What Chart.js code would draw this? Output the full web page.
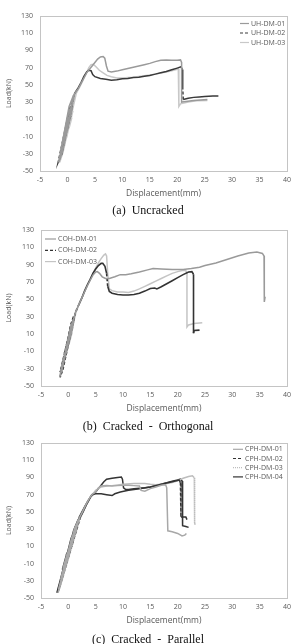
<!DOCTYPE html>
<html><head><meta charset="utf-8">
<script src="https://cdn.jsdelivr.net/npm/chart.js@4/dist/chart.umd.min.js"></script>
<style>
html,body{margin:0;padding:0;background:#fff;width:296px;height:644px;overflow:hidden;}
.wrap{position:absolute;left:0;width:296px;}
canvas{display:block;}
.cap{position:absolute;left:0;width:296px;text-align:center;font-family:"Liberation Serif","DejaVu Serif",serif;font-size:12px;color:#111;white-space:pre;line-height:14px;}
</style></head>
<body>
<div class="wrap" style="top:0;height:215px"><canvas id="ca" width="296" height="215"></canvas></div>
<div class="wrap" style="top:215px;height:215px"><canvas id="cb" width="296" height="215"></canvas></div>
<div class="wrap" style="top:430px;height:214px"><canvas id="cc" width="296" height="214"></canvas></div>
<div class="cap" style="top:203px">(a)  Uncracked</div>
<div class="cap" style="top:419px">(b)  Cracked  -  Orthogonal</div>
<div class="cap" style="top:632px">(c)  Cracked  -  Parallel</div>
<script>
// ---------- tick labels ----------
const xTicks = [-5,0,5,10,15,20,25,30,35,40];
const yTicks = [-50,-30,-10,10,30,50,70,90,110,130];
const xTitle = 'Displacement(mm)';
const yTitle = 'Load(kN)';
const captions = ['(a)  Uncracked','(b)  Cracked  -  Orthogonal','(c)  Cracked  -  Parallel'];

// ---------- (a) Uncracked ----------
const UH_DM_01 = [[0,0],[0.5,12],[0.0,5],[-0.7,-12],[-0.1,-5],[0.7,18],[0.0,8],[-1.0,-20],[-0.3,-10],[0.9,28],[0.1,15],[-1.3,-32],[-0.6,-20],[1.1,38],[0.3,25],[-1.6,-40],[-0.9,-28],[1.3,40],[2,46],[2.5,52],[3,58],[3.5,64],[4,68],[4.5,72],[5,76],[5.5,80],[6,82.5],[6.5,83],[6.8,81],[7.1,72],[7.4,66],[8,65],[9,66],[10,67.5],[11,69],[12,70.5],[13,72],[14,73.5],[15,75],[16,77],[17,78.5],[18,79],[19,78.5],[20,78.5],[20.6,79],[20.8,76],[20.8,30],[21.2,30.5],[23,32],[25.5,33]];
const UH_DM_02 = [[0,0],[0.6,14],[-0.1,3],[-0.8,-15],[-0.1,-4],[0.9,26],[0.1,10],[-1.2,-28],[-0.5,-14],[1.1,36],[0.3,20],[-1.7,-40],[-1.0,-30],[1.3,40],[2,47],[2.5,53],[3,60],[3.5,65],[3.9,67],[4.3,66.5],[4.6,62],[5,59.5],[6,57.5],[7,56.5],[8,55.5],[9,56],[10,57],[11,57.5],[12,58.5],[13,59],[14,60],[15,61],[16,62.5],[17,64],[18,65.5],[19,67.5],[20,69.5],[20.7,71],[20.9,68],[21,46],[21.1,33],[22,34.5],[23,35.5],[24,36],[25,36.5],[26.5,37],[27.5,37]];
const UH_DM_03 = [[0.3,0],[0.8,12],[0.3,4],[-0.4,-12],[0.1,-4],[1.0,20],[0.4,9],[-0.7,-22],[-0.1,-10],[1.2,30],[0.5,16],[-1.1,-33],[-0.5,-20],[1.4,38],[0.7,26],[-1.4,-40],[-0.8,-28],[1.6,40],[2.2,47],[2.8,55],[3.4,63],[3.9,70],[4.3,73.5],[4.7,74],[5.2,71],[5.8,67],[6.5,64],[7.2,61],[8,59.5],[9,58],[10,58],[11,58.5],[12,59],[14,60.5],[16,62.5],[18,65],[19,66.5],[20.2,68.5],[20.3,25],[20.6,28],[22,30],[23.5,31.5],[25.5,32]];

// ---------- (b) Cracked - Orthogonal ----------
const COH_DM_01 = [[0,0],[0.6,12],[0.0,4],[-0.6,-10],[-0.1,-3],[0.8,18],[0.1,7],[-1.0,-22],[-0.4,-12],[1.0,25],[0.3,13],[-1.4,-33],[-0.8,-22],[1.1,30],[0.4,18],[-1.6,-40],[-1.1,-30],[1.3,35],[2,45],[2.5,52],[3,59],[3.5,66],[4,72],[4.5,78],[5,81.5],[5.3,82],[5.7,80],[6.2,76],[6.8,74],[7.5,74],[8.5,76],[9.5,78.5],[10.5,78.5],[11.5,79.5],[13,81.5],[14.5,84],[15.5,85.5],[17,85],[19,84.5],[21,84.5],[22.5,85.5],[24,87],[25,89],[27,92],[29,96],[31,100],[33,103.5],[34.5,104.5],[35.5,103],[35.8,100],[35.8,55],[35.9,47],[36,53]];
const COH_DM_02 = [[0,0],[0.5,12],[-0.1,2],[-0.7,-12],[-0.1,-4],[0.7,18],[0.1,6],[-1.1,-24],[-0.5,-13],[0.9,26],[0.2,12],[-1.5,-34],[-0.9,-24],[1.0,31],[0.4,20],[-1.5,-40],[-1.0,-31],[1.3,35],[2,45],[2.5,52],[3,60],[3.5,67],[4,73],[4.5,80],[5,85],[5.5,89],[6,91.5],[6.3,91.5],[6.7,88],[7,80],[7.2,65],[7.5,59],[8,57],[9,55.5],[10,55],[11,55],[12,55.5],[13,57],[14,59.5],[15,62.5],[15.8,63],[16.2,62],[17,64.5],[18,68],[19,71.5],[20,75],[21,78.5],[22,81.5],[22.6,82],[22.9,79],[22.9,11],[23,14],[24,14.5]];
const COH_DM_03 = [[0.2,0],[0.7,12],[0.1,3],[-0.5,-10],[0.0,-2],[0.9,19],[0.2,7],[-0.9,-22],[-0.3,-11],[1.1,26],[0.4,14],[-1.3,-33],[-0.7,-21],[1.2,31],[0.5,19],[-1.5,-39],[-1.0,-29],[1.4,35],[2,45],[3,59],[4,73],[5,86],[5.5,92],[6,97],[6.5,101],[6.8,102.5],[7,100],[7.2,80],[7.5,62],[8,60],[9,58.5],[10,58.5],[11,58],[12,59.5],[13,62],[14,65],[15,68],[16,71],[17,74],[18,77],[19,80],[20,82],[21,83.5],[21.5,83],[21.7,80],[21.7,18],[22,20.5],[23,22],[24.5,23]];

// ---------- (c) Cracked - Parallel ----------
const CPH_DM_01 = [[-0.3,0],[0.6,12],[-0.2,2],[-1.0,-16],[-0.4,-6],[1.1,24],[0.2,10],[-1.4,-28],[-0.8,-16],[1.5,34],[0.6,20],[-1.8,-40],[-1.2,-28],[1.9,42],[1.1,30],[-1.9,-44],[-1.4,-34],[2.1,44],[2.6,50],[3.2,58],[3.8,65],[4.3,70],[5,73],[5.5,78],[6,80],[7,80.5],[8,80],[9,80.5],[10,81],[11,81],[12,80.5],[13,80],[13.3,75],[14,74],[15,77],[16,79],[17,81],[17.8,81.5],[18,78],[18.2,28],[19,27],[20,25],[20.8,22],[21.3,23],[21.6,25]];
const CPH_DM_02 = [[-0.2,0],[0.7,13],[-0.1,3],[-0.9,-15],[-0.3,-5],[1.2,25],[0.3,11],[-1.3,-27],[-0.7,-15],[1.6,35],[0.7,21],[-1.9,-41],[-1.3,-29],[2.0,43],[1.2,31],[-2.0,-44],[-1.5,-35],[2.2,44],[2.7,50],[3.3,58],[3.8,64],[4.3,70],[5,71],[6,71],[7,70],[8,69],[8.5,71],[9.5,73],[11,75],[13,77],[15,79],[17,82],[19,85],[20.3,87],[20.5,84],[20.6,44],[21.5,44],[21.7,41]];
const CPH_DM_03 = [[-0.1,0],[0.8,14],[0.0,4],[-0.8,-14],[-0.2,-4],[1.3,26],[0.4,12],[-1.2,-26],[-0.6,-14],[1.7,36],[0.8,22],[-1.7,-40],[-1.1,-28],[2.0,44],[1.3,32],[-1.8,-43],[-1.3,-33],[2.3,45],[2.8,52],[3.4,60],[4,67],[4.5,71],[5,75],[6,79],[7,80],[8,80.5],[10,82],[12,83],[14,83],[15,82],[16,81.5],[17,82],[18,83],[19,84],[20,86],[21,89],[22,91],[22.7,92],[23,90],[23.1,37],[23.2,35]];
const CPH_DM_04 = [[-0.4,0],[0.5,11],[-0.3,1],[-1.1,-17],[-0.5,-7],[1.0,23],[0.1,9],[-1.5,-30],[-0.9,-18],[1.4,33],[0.5,19],[-1.9,-42],[-1.3,-30],[1.8,41],[1.0,29],[-2.1,-44],[-1.6,-36],[2.0,44],[2.5,50],[3,56],[3.5,62],[4,67],[4.5,70],[5,73],[5.5,77],[6,81],[6.5,85],[7,88],[8,89],[9,90],[9.7,90.5],[9.9,88],[10.1,78],[10.5,76],[11,76],[12,77],[13,77.5],[14,78],[15,79],[16,80.5],[17,82],[18,84],[19,85.5],[20,87],[20.5,88],[20.8,86],[20.9,34],[21.5,33],[22,32]];

// ---------- helpers ----------
const pts = arr => arr.map(p => ({x:p[0], y:p[1]}));
const FONT = "'Open Sans','Liberation Sans',sans-serif";
const TXT = '#595959';

function ds(label, data, color, dash, width){
  const o = {label, data: pts(data), borderColor: color, backgroundColor: color, borderWidth: width||1.5,
    pointRadius:0, tension:0, showLine:true, fill:false, legendDash: dash||[]};
  if (dash) {
    o.segment = { borderDash: ctx => Math.abs(ctx.p1.parsed.y - ctx.p0.parsed.y) > 8 ? dash : [] };
  }
  return o;
}

const boxPlugin = {
  id:'boxPlugin',
  beforeDatasetsDraw(chart){
    const {ctx, chartArea:a} = chart;
    ctx.save(); ctx.strokeStyle = '#c4c4c4'; ctx.lineWidth = 1;
    ctx.strokeRect(Math.round(a.left)+0.5, Math.round(a.top)+0.5, Math.round(a.right-a.left), Math.round(a.bottom-a.top));
    ctx.restore();
  }
};

const legendPlugin = {
  id:'inLegend',
  afterDatasetsDraw(chart, args, opts){
    const {ctx} = chart;
    ctx.save();
    ctx.font = '7px ' + FONT; ctx.textBaseline = 'middle'; ctx.fillStyle = TXT;
    chart.data.datasets.forEach((d,i) => {
      const y = opts.y0 + i*opts.dy;
      ctx.strokeStyle = d.borderColor; ctx.lineWidth = 1.2;
      ctx.setLineDash(d.legendDash);
      ctx.beginPath(); ctx.moveTo(opts.x0, y); ctx.lineTo(opts.x1, y); ctx.stroke();
      ctx.setLineDash([]);
      ctx.fillText(d.label, opts.tx, y);
    });
    ctx.restore();
  }
};

function makeChart(id, H, box, datasets, legend){
  const xH = 30;
  return new Chart(document.getElementById(id), {
    type:'scatter',
    data:{datasets},
    options:{
      responsive:false, animation:false, maintainAspectRatio:false,
      layout:{padding:{left:0, right:296-box.right, top:box.top, bottom:H-box.bottom-xH}},
      plugins:{legend:{display:false}, tooltip:{enabled:false}, inLegend:legend},
      scales:{
        x:{type:'linear', min:-5, max:40,
          afterBuildTicks: s => { s.ticks = xTicks.map(v=>({value:v})); },
          afterFit: s => { s.height = xH; },
          grid:{display:false, drawTicks:false}, border:{display:false},
          ticks:{color:TXT, font:{family:FONT, size:7}, padding:5, maxRotation:0, autoSkip:false},
          title:{display:true, text:xTitle, color:TXT, font:{family:FONT, size:8.5}, padding:{top:0,bottom:2}}
        },
        y:{type:'linear', min:-50, max:130,
          afterBuildTicks: s => { s.ticks = yTicks.map(v=>({value:v})); },
          afterFit: s => { s.width = box.left; },
          grid:{display:false, drawTicks:false}, border:{display:false},
          ticks:{color:TXT, font:{family:FONT, size:7}, padding:7, autoSkip:false},
          title:{display:true, text:yTitle, color:TXT, font:{family:FONT, size:7}, padding:{top:5,bottom:0}}
        }
      }
    },
    plugins:[boxPlugin, legendPlugin]
  });
}

makeChart('ca', 215, {left:40, right:291, top:16, bottom:171}, [
  ds('UH-DM-01', UH_DM_01, '#9a9a9a'),
  ds('UH-DM-02', UH_DM_02, '#3a3a3a', [3,2]),
  ds('UH-DM-03', UH_DM_03, '#c8c8c8')
], {x0:240, x1:249, tx:251, y0:23.5, dy:9.5});

makeChart('cb', 215, {left:41, right:292, top:15, bottom:171}, [
  ds('COH-DM-01', COH_DM_01, '#9a9a9a'),
  ds('COH-DM-02', COH_DM_02, '#333333', [3,2], 1.6),
  ds('COH-DM-03', COH_DM_03, '#c4c4c4')
], {x0:45, x1:56, tx:58, y0:24, dy:11.3});

makeChart('cc', 214, {left:41, right:291, top:13, bottom:168}, [
  ds('CPH-DM-01', CPH_DM_01, '#a8a8a8'),
  ds('CPH-DM-02', CPH_DM_02, '#333333', [3,2]),
  ds('CPH-DM-03', CPH_DM_03, '#bdbdbd', [1,1]),
  ds('CPH-DM-04', CPH_DM_04, '#333333', null, 1.5)
], {x0:233, x1:243, tx:245, y0:19.3, dy:9.2});
</script>
</body></html>
